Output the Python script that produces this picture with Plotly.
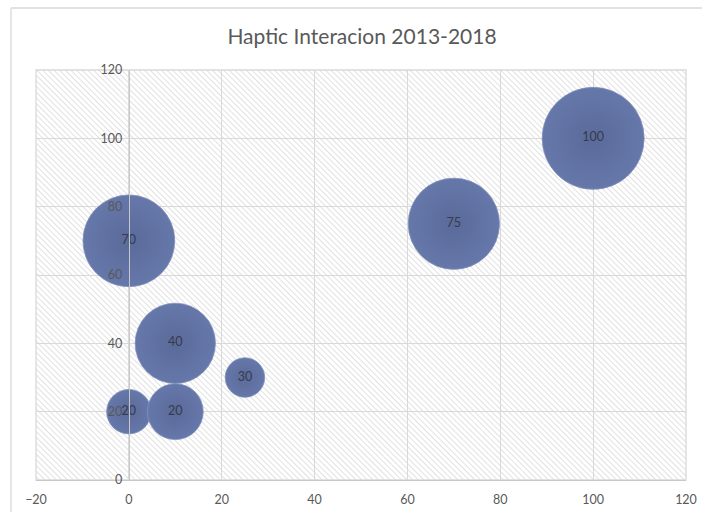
import base64
import plotly.graph_objects as go

# Data
x_vals = [0, 10, 10, 25, 0, 70, 100]
y_vals = [20, 20, 40, 30, 70, 75, 100]
sizes = [19, 30, 62, 15, 81, 80, 100]
labels = [str(v) for v in y_vals]
x_ticks = [-20, 0, 20, 40, 60, 80, 100, 120]
y_ticks = [0, 20, 40, 60, 80, 100, 120]
title_text = "Haptic Interacion 2013-2018"

W, H = 702, 512
L, R, T, B = 36, 16, 70, 32
pw, ph = W - L - R, H - T - B
max_diam = 102

svg = (
    f'<svg xmlns="http://www.w3.org/2000/svg" width="{pw}" height="{ph}">'
    '<defs><pattern id="h" width="4" height="4" patternUnits="userSpaceOnUse" '
    'patternTransform="rotate(-45)">'
    '<line x1="0" y1="0" x2="0" y2="4" stroke="#cdcdcd" stroke-width="1.2"/>'
    '</pattern></defs>'
    '<rect width="100%" height="100%" fill="white"/>'
    '<rect width="100%" height="100%" fill="url(#h)"/></svg>'
)
src = "data:image/svg+xml;base64," + base64.b64encode(svg.encode()).decode()

fig = go.Figure()
fig.add_trace(go.Scatter(
    x=x_vals, y=y_vals, mode="markers+text", text=labels,
    textposition="middle center",
    textfont=dict(family="Lato, sans-serif", size=12.5, color="#363b4a"),
    marker=dict(size=sizes, sizemode="area",
                sizeref=2.0 * max(sizes) / (max_diam ** 2),
                color="#6677aa", opacity=1,
                gradient=dict(type="radial", color="#5a6a99"),
                line=dict(color="#8291bd", width=0.8)),
    cliponaxis=False, hoverinfo="skip", showlegend=False,
))

axis_font = dict(family="Lato, sans-serif", size=12.5, color="#595959")
top_y = (H - B - 8) / ph
left_x = (11 - L) / pw
fig.update_layout(
    width=W, height=H,
    margin=dict(l=L, r=R, t=T, b=B, autoexpand=False),
    paper_bgcolor="white", plot_bgcolor="rgba(0,0,0,0)",
    title=dict(text=title_text, x=362 / W, xanchor="center",
               y=1 - 37 / H, yanchor="middle",
               font=dict(family="Lato, sans-serif", size=21, color="#595959")),
    xaxis=dict(range=[-20, 120], tickvals=x_ticks, showgrid=True,
               gridcolor="#d9d9d9", gridwidth=1.3, zeroline=False,
               showline=True, linecolor="#c8c8c8", linewidth=1.3,
               ticks="", tickfont=axis_font, ticklabelstandoff=8,
               automargin=False),
    yaxis=dict(range=[0, 120], tickvals=y_ticks, showgrid=True,
               gridcolor="#d9d9d9", gridwidth=1.3, zeroline=False,
               anchor="free", position=20 / 140,
               showline=True, linecolor="#c8c8c8", linewidth=1.3,
               ticks="", tickfont=axis_font, ticklabelstandoff=4,
               automargin=False),
    images=[dict(source=src, xref="paper", yref="paper", x=0, y=1,
                 sizex=1, sizey=1, xanchor="left", yanchor="top",
                 sizing="stretch", layer="below")],
    shapes=[
        dict(type="rect", xref="paper", yref="paper", x0=0, x1=1, y0=0, y1=1,
             line=dict(color="#d9d9d9", width=1.3), layer="below"),
        dict(type="line", xref="paper", yref="paper",
             x0=left_x, x1=(W + 10 - L) / pw, y0=top_y, y1=top_y,
             line=dict(color="#d9d9d9", width=1.3), layer="below"),
        dict(type="line", xref="paper", yref="paper",
             x0=left_x, x1=left_x, y0=top_y, y1=-B / ph - 0.1,
             line=dict(color="#d9d9d9", width=1.3), layer="below"),
    ],
)

fig.write_html("out.html")
